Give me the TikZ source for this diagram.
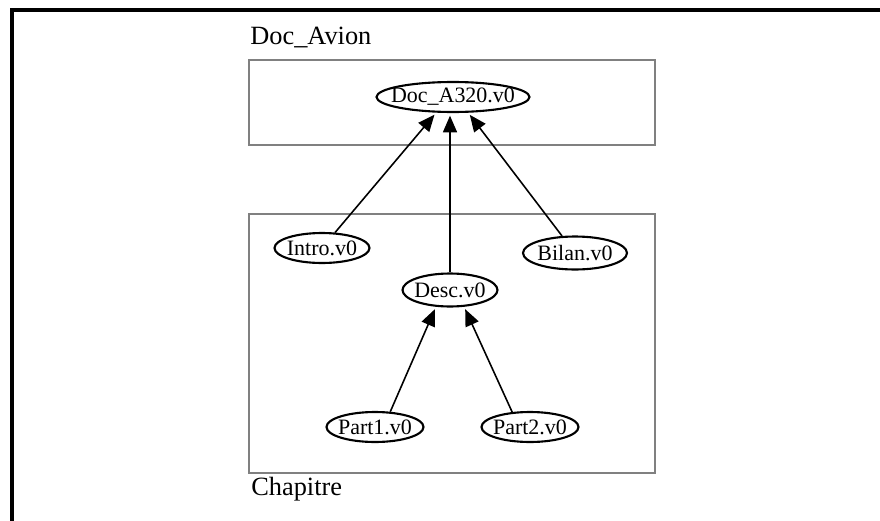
\documentclass[tikz,border=0pt]{standalone}
\usepackage{fontspec}
\setmainfont{Liberation Serif}
\usetikzlibrary{shapes.geometric,positioning,fit,arrows.meta}

\begin{document}
\begin{tikzpicture}[x=0.02cm,y=-0.02cm,font=\fontsize{12.5}{14}\selectfont,
 v/.style={draw,ellipse,line width=1.2pt,inner sep=0pt,minimum height=0.6cm,
  execute at begin node={\hbox to 0pt\bgroup\hss},execute at end node={\hss\egroup}},
 grp/.style={draw=gray,line width=1.3pt,inner sep=0pt},
 lbl/.style={anchor=base west,inner sep=0pt,font=\fontsize{15}{17}\selectfont},
 a/.style={line width=0.9pt,-{Triangle[length=9.5pt,width=8pt]},shorten >=1.5pt}]
\useasboundingbox (0,0) rectangle (880,521);
\draw[line width=2pt] (880,10) -- (12,10) -- (12,521);
\node[grp,fit={(249,60)(655,145)}] (avion) {};
\node[grp,fit={(249,214)(655,473)}] (chap) {};
\node[lbl] (lavion) at (250,44) {Doc\_Avion};
\node[lbl] (lchap) at (251,495) {Chapitre};
\node[v,minimum width=3.06cm] (doc) at (453,97) {Doc\_A320.v0};
\node[v,minimum width=1.9cm] (intro) at (322,248) {Intro.v0};
\node[v,minimum width=2.08cm,minimum height=0.66cm] (bilan) at (575,253) {Bilan.v0};
\node[v,minimum width=1.9cm,minimum height=0.66cm] (desc) at (450,290) {Desc.v0};
\node[v,minimum width=1.94cm] (p1) at (375,427) {Part1.v0};
\node[v,minimum width=1.94cm] (p2) at (530,427) {Part2.v0};
\draw[a] (intro) -- (doc.223);
\draw[a] (desc.north) -- (desc.north |- doc.south);
\draw[a] (bilan) -- (doc.314);
\draw[a] (p1.45) -- (desc.230);
\draw[a] (p2.140) -- (desc.310);
\end{tikzpicture}
\end{document}
